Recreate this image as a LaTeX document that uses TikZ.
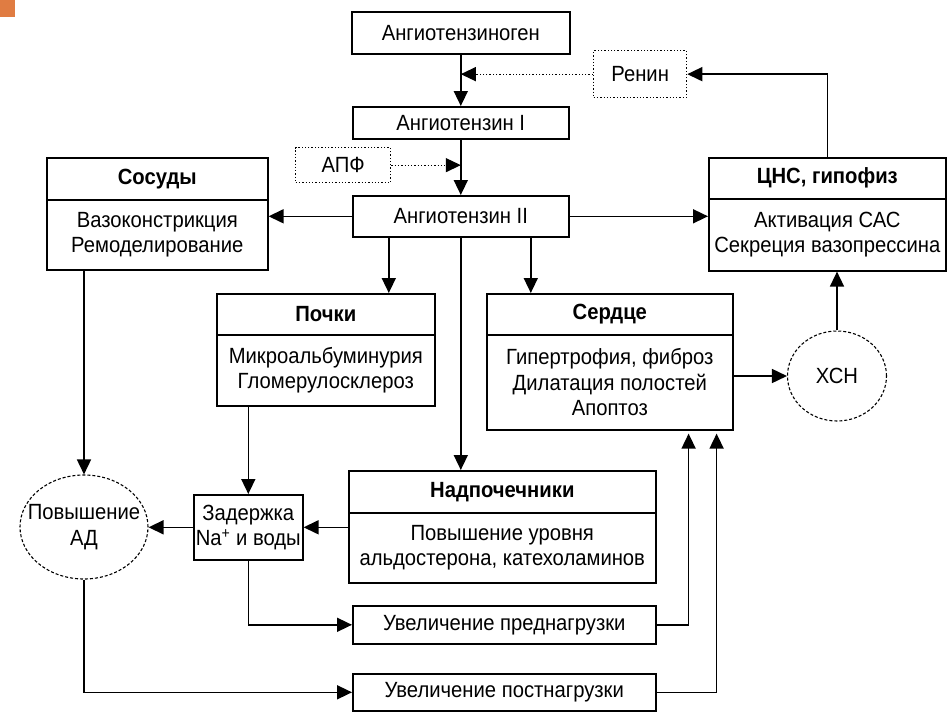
\documentclass[tikz,border=0pt]{standalone}
\usepackage{fontspec}
\setmainfont[FakeStretch=0.92]{Liberation Sans}
\usetikzlibrary{arrows.meta,shapes.geometric}
\definecolor{accent}{RGB}{224,124,66}
\begin{document}
\begin{tikzpicture}[x=1pt,y=-1pt,
  txt/.style={font=\fontsize{22}{25.5}\selectfont, align=center},
  box/.style={draw, line width=1.6pt, inner sep=0pt, anchor=north west, txt},
  hdr/.style={box, font=\fontsize{22}{25.5}\selectfont\bfseries},
  dotbox/.style={draw, dotted, line width=1.3pt, inner sep=0pt, anchor=north west, txt},
  oval/.style={draw, ellipse, densely dashed, line width=1.1pt, inner sep=0pt},
  arr/.style={line width=1.6pt, -{Triangle[length=15pt,width=14pt]}},
  dotarr/.style={line width=1.3pt, dotted, -{Triangle[length=15pt,width=14pt]}},
  ln/.style={line width=1.6pt}]
\useasboundingbox (0,0) rectangle (947,712);
\fill[accent] (0,0) rectangle (15,17);

% central chain
\node[box, minimum width=218pt, minimum height=42pt] (ageno) at (351,11) {Ангиотензиноген};
\node[dotbox, minimum width=93pt, minimum height=47pt] (renin) at (593,50) {Ренин};
\node[box, minimum width=216pt, minimum height=32pt] (aI) at (352,106) {Ангиотензин I};
\node[dotbox, minimum width=95pt, minimum height=35pt] (apf) at (295,147) {АПФ};
\node[box, minimum width=216pt, minimum height=41pt] (aII) at (352,195) {Ангиотензин II};

% organs
\node[hdr, minimum width=221pt, minimum height=42pt] (sosH) at (46,157) {Сосуды};
\node[box, minimum width=221pt, minimum height=70pt] (sosB) at (46,199) {Вазоконстрикция\\Ремоделирование};
\node[hdr, minimum width=237pt, minimum height=41pt] (cnsH) at (708,157) {ЦНС, гипофиз};
\node[box, minimum width=237pt, minimum height=72pt] (cnsB) at (708,198) {Активация САС\\Секреция вазопрессина};
\node[hdr, minimum width=218pt, minimum height=41pt] (pochH) at (216,293) {Почки};
\node[box, minimum width=218pt, minimum height=71pt] (pochB) at (216,334) {Микроальбуминурия\\Гломерулосклероз};
\node[hdr, minimum width=246pt, minimum height=41pt] (serH) at (486,293) {Сердце};
\node[box, minimum width=246pt, minimum height=95pt] (serB) at (486,334) {Гипертрофия, фиброз\\Дилатация полостей\\Апоптоз};
\node[hdr, minimum width=307pt, minimum height=42pt] (nadH) at (348,470) {Надпочечники};
\node[box, minimum width=307pt, minimum height=70pt] (nadB) at (348,512) {Повышение уровня\\альдостерона, катехоламинов};
\node[box, minimum width=109pt, minimum height=65pt] (zad) at (193,494) {Задержка\\Na\textsuperscript{+} и воды};
\node[box, minimum width=303pt, minimum height=38pt] (pred) at (352,605) {Увеличение преднагрузки};
\node[box, minimum width=303pt, minimum height=37pt] (post) at (352,673) {Увеличение постнагрузки};

% ovals
\node[oval, minimum width=128pt, minimum height=104pt] (ad) at (84,527) {};
\node[txt] (adt) at (ad) {Повышение\\АД};
\node[oval, minimum width=99pt, minimum height=90pt] (xsn) at (837,376) {};
\node[txt] (xsnt) at (xsn) {ХСН};

% connectors
\draw[arr] (ageno.south) -- (aI.north);
\draw[dotarr] (renin.west) -- (renin.west -| aI.north);
\draw[arr] (cnsH.north) |- (renin.east);
\draw[arr] (aI.south) -- (aII.north);
\draw[dotarr] (apf.east) -- (apf.east -| aII.north);
\draw[arr] (aII.west) -- (aII.west -| sosB.east);
\draw[arr] (aII.east) -- (aII.east -| cnsB.west);
\draw[arr] ([xshift=-72pt]aII.south) -- ([xshift=-72pt]aII.south |- pochH.north);
\draw[arr] ([xshift=70pt]aII.south) -- ([xshift=70pt]aII.south |- serH.north);
\draw[arr] (aII.south) -- (aII.south |- nadH.north);
\draw[arr] (zad.north |- pochB.south) -- (zad.north);
\draw[arr] (zad.east -| nadB.west) -- (zad.east);
\draw[arr] (zad.west) -- (zad.west -| ad.east);
\draw[arr] (ad.north |- sosB.south) -- (ad.north);
\draw[arr] (ad.south) |- (post.west);
\draw[arr] (zad.south) |- (pred.west);
\draw[arr] (pred.east) -| ([xshift=-45pt,yshift=-3pt]serB.south east);
\draw[arr] (post.east) -| ([xshift=-17pt,yshift=-3pt]serB.south east);
\draw[arr] (serB.east |- xsn.west) -- (xsn.west);
\draw[arr] (xsn.north) -- (xsn.north |- cnsB.south);
\end{tikzpicture}
\end{document}
